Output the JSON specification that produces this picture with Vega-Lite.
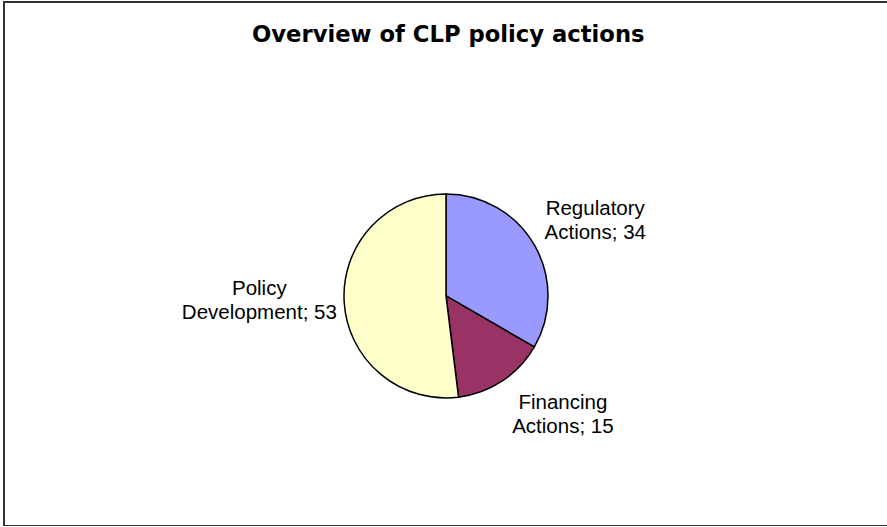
{
  "$schema": "https://vega.github.io/schema/vega-lite/v6.json",
  "width": 884,
  "height": 524,
  "autosize": {"type": "none"},
  "padding": {"left": 4, "top": 2, "right": 0, "bottom": 0},
  "background": "white",
  "title": {
    "text": "Overview of CLP policy actions",
    "font": "DejaVu Sans",
    "fontSize": 22.7,
    "fontWeight": "bold",
    "color": "#000000",
    "anchor": "start",
    "dx": 249,
    "offset": -46
  },
  "data": {
    "values": [
      {"category": "Regulatory Actions", "value": 34},
      {"category": "Financing Actions", "value": 15},
      {"category": "Policy Development", "value": 53}
    ]
  },
  "transform": [
    {"window": [{"op": "row_number", "as": "idx"}]},
    {"window": [{"op": "sum", "field": "value", "as": "cum"}], "sort": [{"field": "idx", "order": "ascending"}], "frame": [null, 0]},
    {"calculate": "datum.cum - datum.value / 2", "as": "mid"},
    {"calculate": "[split(datum.category, ' ')[0], split(datum.category, ' ')[1] + '; ' + datum.value]", "as": "label"}
  ],
  "layer": [
    {
      "data": {"values": [{"frame": 1}]},
      "mark": {"type": "rect", "fill": null, "stroke": "#333333", "strokeWidth": 2},
      "encoding": {}
    },
    {
      "mark": {"type": "arc", "outerRadius": 102, "stroke": "#000000", "strokeWidth": 1.5, "y": {"expr": "height * 0.561"}},
      "encoding": {
        "theta": {"field": "value", "type": "quantitative", "stack": true},
        "order": {"field": "idx", "type": "quantitative"},
        "color": {
          "field": "category",
          "type": "nominal",
          "scale": {"domain": ["Regulatory Actions", "Financing Actions", "Policy Development"], "range": ["#9999FF", "#993366", "#FFFFCC"]},
          "legend": null
        }
      }
    },
    {
      "transform": [{"filter": "datum.category === 'Regulatory Actions'"}],
      "mark": {"type": "text", "radius": 170, "font": "Liberation Sans", "fontSize": 20.5, "color": "#000000", "align": "center", "baseline": "middle", "lineHeight": 24, "dx": 2, "dy": -2, "y": {"expr": "height * 0.561"}},
      "encoding": {
        "theta": {"field": "mid", "type": "quantitative", "stack": null},
        "text": {"field": "label"}
      }
    },
    {
      "transform": [{"filter": "datum.category === 'Financing Actions'"}],
      "mark": {"type": "text", "radius": 170, "font": "Liberation Sans", "fontSize": 20.5, "color": "#000000", "align": "center", "baseline": "middle", "lineHeight": 24, "dx": 23, "dy": -35, "y": {"expr": "height * 0.561"}},
      "encoding": {
        "theta": {"field": "mid", "type": "quantitative", "stack": null},
        "text": {"field": "label"}
      }
    },
    {
      "transform": [{"filter": "datum.category === 'Policy Development'"}],
      "mark": {"type": "text", "radius": 170, "font": "Liberation Sans", "fontSize": 20.5, "color": "#000000", "align": "center", "baseline": "middle", "lineHeight": 24, "dx": -17, "dy": -17, "y": {"expr": "height * 0.561"}},
      "encoding": {
        "theta": {"field": "mid", "type": "quantitative", "stack": null},
        "text": {"field": "label"}
      }
    }
  ]
}
